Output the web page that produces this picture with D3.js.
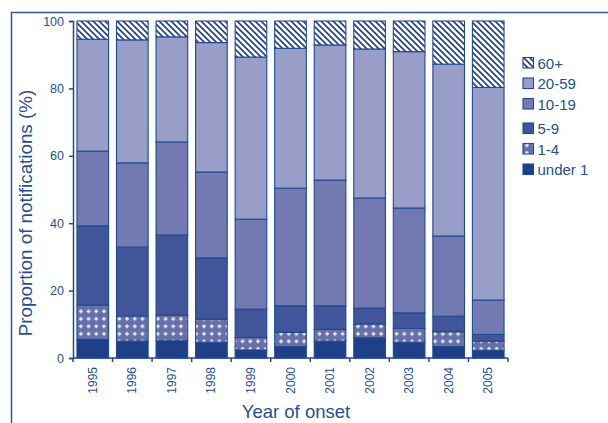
<!DOCTYPE html>
<html>
<head>
<meta charset="utf-8">
<script src="https://cdn.jsdelivr.net/npm/d3@7"></script>
<style>
  html, body { margin: 0; padding: 0; background: #fff; }
  svg { display: block; font-family: "Liberation Sans", Arial, sans-serif; }
</style>
</head>
<body>
<svg id="chart" width="608" height="423"></svg>
<script>
// Age-group share of notifications by year of onset (%)
const years = ["1995","1996","1997","1998","1999","2000","2001","2002","2003","2004","2005"];
const groups = ["under 1","1-4","5-9","10-19","20-59","60+"];
const under1   = [5.5, 5.0, 5.1, 4.7, 2.4, 3.4, 5.0, 6.0, 4.7, 3.4, 2.3];
const age1to4  = [10.2, 7.5, 7.6, 6.8, 3.7, 4.2, 3.5, 4.1, 4.1, 4.4, 2.7];
const age5to9  = [23.5, 20.4, 23.8, 18.2, 8.4, 7.9, 7.0, 4.7, 4.6, 4.6, 2.0];
const age10to19 = [22.2, 25.0, 27.6, 25.5, 26.7, 34.9, 37.3, 32.7, 31.1, 23.8, 10.2];
const age20to59 = [33.2, 36.5, 31.2, 38.4, 48.1, 41.5, 40.1, 44.2, 46.4, 51.0, 63.1];
const age60plus = [5.4, 5.6, 4.7, 6.4, 10.7, 8.1, 7.1, 8.3, 9.1, 12.8, 19.7];
const yTicks = [0, 20, 40, 60, 80, 100];

const seriesValues = [under1, age1to4, age5to9, age10to19, age20to59, age60plus];

const ink = "#1d4a92";
const textCol = "#234f97";

const rows = years.map((y, i) => {
  const r = { year: y };
  groups.forEach((g, k) => { r[g] = seriesValues[k][i]; });
  return r;
});

const svg = d3.select("#chart");
const defs = svg.append("defs");

// diagonal hatch for 60+
const hatch = defs.append("pattern")
  .attr("id", "hatch").attr("patternUnits", "userSpaceOnUse")
  .attr("width", 6).attr("height", 6);
hatch.append("rect").attr("width", 6).attr("height", 6).attr("fill", "#fff");
hatch.append("path").attr("d", "M0,0 L6,6 M-1,5 L1,7 M5,-1 L7,1")
  .attr("stroke", "#1d3f8a").attr("stroke-width", 1.6);

// plus-sign fill for 1-4
const plus = defs.append("pattern")
  .attr("id", "plus").attr("patternUnits", "userSpaceOnUse")
  .attr("width", 7.7).attr("height", 7.5);
plus.append("rect").attr("width", 7.7).attr("height", 7.5).attr("fill", "#6770a8");
plus.append("path").attr("d", "M3.85,1.9 V5.9 M1.85,3.9 H5.85")
  .attr("stroke", "#ffffff").attr("stroke-width", 1.2);

const fills = {
  "under 1": "#1f3f88",
  "1-4": "url(#plus)",
  "5-9": "#41559a",
  "10-19": "#737ab1",
  "20-59": "#989ec7",
  "60+": "url(#hatch)"
};

const x0 = 73, x1 = 508, yTop = 21, yBot = 358;

const x = d3.scaleBand().domain(years).range([x0, x1])
  .paddingInner(0.2).paddingOuter(0.1);
const y = d3.scaleLinear().domain([0, 100]).range([yBot, yTop]);

// outer frame (left and top)
svg.append("path")
  .attr("d", "M11.5,423 V12.5 H608")
  .attr("fill", "none").attr("stroke", "#2b5b9c").attr("stroke-width", 1.5);

// stacked bars
const stacked = d3.stack().keys(groups)(rows);
svg.append("g").selectAll("g").data(stacked).join("g")
  .attr("fill", d => fills[d.key])
  .selectAll("rect").data(d => d).join("rect")
  .attr("x", d => x(d.data.year))
  .attr("width", x.bandwidth())
  .attr("y", d => y(d[1]))
  .attr("height", d => y(d[0]) - y(d[1]))
  .attr("stroke", ink).attr("stroke-width", 1.1);

// y axis
const yAxis = svg.append("g").attr("transform", `translate(${x0},0)`)
  .call(d3.axisLeft(y).tickValues(yTicks).tickSize(4).tickPadding(5));
yAxis.select(".domain").attr("stroke", ink).attr("stroke-width", 1.5);
yAxis.selectAll(".tick line").attr("stroke", ink).attr("stroke-width", 1.5);
yAxis.selectAll("text").attr("fill", textCol).attr("font-size", 12.5)
  .attr("font-family", "Liberation Sans, Arial, sans-serif");

// x axis: ticks at category boundaries, labels centred under bars
const step = (x1 - x0) / years.length;
const xAxis = svg.append("g");
xAxis.append("line").attr("x1", x0).attr("x2", x1).attr("y1", yBot).attr("y2", yBot)
  .attr("stroke", ink).attr("stroke-width", 1.5);
xAxis.selectAll("line.tk").data(d3.range(years.length + 1)).join("line")
  .attr("class", "tk")
  .attr("x1", i => x0 + i * step).attr("x2", i => x0 + i * step)
  .attr("y1", yBot).attr("y2", yBot + 4)
  .attr("stroke", ink).attr("stroke-width", 1.5);
xAxis.selectAll("text").data(years).join("text")
  .attr("transform", d => `translate(${x(d) + x.bandwidth() / 2 + 4},${yBot + 9}) rotate(-90)`)
  .attr("text-anchor", "end")
  .attr("fill", textCol).attr("font-size", 12)
  .text(d => d);

// axis titles
svg.append("text")
  .attr("transform", `translate(32,213) rotate(-90)`)
  .attr("text-anchor", "middle").attr("fill", textCol).attr("font-size", 18.8)
  .text("Proportion of notifications (%)");
svg.append("text")
  .attr("x", 296).attr("y", 418)
  .attr("text-anchor", "middle").attr("fill", textCol).attr("font-size", 18.5)
  .text("Year of onset");

// legend (top entry first)
const legendOrder = groups.slice().reverse();
const legend = svg.append("g");
const lg = legend.selectAll("g").data(legendOrder).join("g")
  .attr("transform", (d, i) => `translate(523,${63 + i * 20.5 + (i >= 3 ? 4 : 0)})`);
lg.append("rect").attr("x", 0).attr("y", -5.5).attr("width", 10.5).attr("height", 10.5)
  .attr("fill", d => fills[d]).attr("stroke", ink).attr("stroke-width", 1.1);
lg.append("text").attr("x", 14.5).attr("y", 5.5)
  .attr("fill", textCol).attr("font-size", 15)
  .text(d => d);
</script>
</body>
</html>
